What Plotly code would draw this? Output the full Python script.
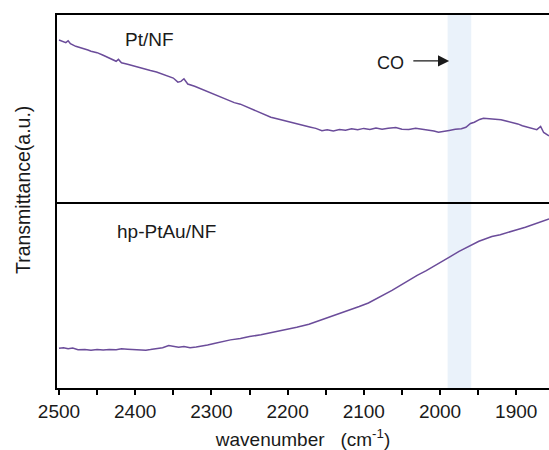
import plotly.graph_objects as go

# ---- data (wavenumber in cm-1, transmittance in a.u.) ----
pt_wn = [2500, 2495, 2491, 2488, 2485, 2478, 2470, 2462, 2458, 2450, 2442, 2436, 2430, 2425, 2422, 2418,
         2410, 2402, 2395, 2388, 2380, 2372, 2365, 2358, 2350, 2344, 2340, 2336, 2331, 2322, 2314, 2306,
         2296, 2288, 2280, 2270, 2262, 2254, 2246, 2238, 2232, 2222, 2214, 2205, 2196, 2188, 2180, 2171,
         2163, 2155, 2148, 2140, 2132, 2124, 2116, 2108, 2100, 2092, 2084, 2076, 2068, 2058, 2050, 2041,
         2032, 2024, 2016, 2008, 2002, 1995, 1988, 1980, 1972, 1966, 1960, 1955, 1948, 1943, 1936, 1928,
         1920, 1912, 1905, 1898, 1892, 1885, 1878, 1873, 1868, 1864, 1857]
pt_val = [0.866, 0.860, 0.852, 0.862, 0.846, 0.832, 0.824, 0.812, 0.806, 0.798, 0.784, 0.772, 0.762, 0.752,
          0.762, 0.744, 0.736, 0.726, 0.720, 0.712, 0.702, 0.694, 0.684, 0.674, 0.662, 0.640, 0.644, 0.658,
          0.630, 0.618, 0.604, 0.592, 0.574, 0.562, 0.546, 0.530, 0.522, 0.508, 0.492, 0.476, 0.466, 0.452,
          0.444, 0.434, 0.426, 0.418, 0.410, 0.400, 0.392, 0.380, 0.385, 0.378, 0.386, 0.382, 0.390, 0.385,
          0.392, 0.386, 0.394, 0.387, 0.393, 0.397, 0.388, 0.386, 0.393, 0.389, 0.383, 0.378, 0.371, 0.378,
          0.381, 0.387, 0.390, 0.398, 0.418, 0.425, 0.440, 0.446, 0.443, 0.440, 0.438, 0.430, 0.424, 0.416,
          0.406, 0.398, 0.390, 0.385, 0.402, 0.370, 0.352]

ptau_wn = [2500, 2494, 2488, 2482, 2475, 2466, 2458, 2450, 2442, 2434, 2425, 2418, 2410, 2402, 2394, 2386,
           2380, 2372, 2364, 2356, 2350, 2343, 2336, 2328, 2320, 2312, 2305, 2295, 2285, 2275, 2262, 2250,
           2235, 2220, 2205, 2188, 2172, 2158, 2145, 2132, 2118, 2106, 2094, 2084, 2072, 2063, 2052, 2040,
           2030, 2018, 2008, 1997, 1986, 1975, 1962, 1949, 1940, 1932, 1921, 1910, 1898, 1888, 1875, 1866,
           1857]
ptau_val = [0.213, 0.216, 0.210, 0.214, 0.205, 0.207, 0.203, 0.206, 0.204, 0.207, 0.205, 0.210, 0.208,
            0.205, 0.206, 0.203, 0.206, 0.210, 0.216, 0.228, 0.224, 0.218, 0.222, 0.216, 0.220, 0.224,
            0.231, 0.240, 0.249, 0.258, 0.265, 0.276, 0.285, 0.297, 0.309, 0.326, 0.342, 0.362, 0.378,
            0.398, 0.417, 0.437, 0.456, 0.477, 0.500, 0.523, 0.550, 0.581, 0.604, 0.629, 0.652, 0.679,
            0.706, 0.733, 0.762, 0.787, 0.800, 0.812, 0.822, 0.837, 0.850, 0.862, 0.880, 0.895, 0.907]

x_ticks = [2500, 2400, 2300, 2200, 2100, 2000, 1900]
x_minor = [2450, 2350, 2250, 2150, 2050, 1950]
co_band = [1990, 1959]

LINE = "#6b4c9a"
FONT = "Liberation Sans, Arial, sans-serif"
TXT = "#1a1a1a"

fig = go.Figure()
fig.add_trace(go.Scatter(x=pt_wn, y=pt_val, mode="lines", xaxis="x2", yaxis="y2",
                         line=dict(color=LINE, width=1.5), showlegend=False))
fig.add_trace(go.Scatter(x=ptau_wn, y=ptau_val, mode="lines", xaxis="x", yaxis="y",
                         line=dict(color=LINE, width=1.5), showlegend=False))

xr = [2502.6, 1857]
axis_common = dict(range=xr, showgrid=False, zeroline=False, showline=True,
                   linecolor="black", linewidth=2)
fig.update_layout(
    width=549, height=450,
    margin=dict(l=57, r=0, t=15, b=62),
    paper_bgcolor="white", plot_bgcolor="white",
    font=dict(family=FONT, color=TXT, size=19),
    xaxis=dict(**axis_common, anchor="y", domain=[0, 1],
               tickmode="array", tickvals=x_ticks, ticktext=[str(v) for v in x_ticks],
               ticks="outside", ticklen=5, tickwidth=1.5, tickcolor="black",
               minor=dict(tickmode="array", tickvals=x_minor,
                          ticks="outside", ticklen=5, tickwidth=1.5, tickcolor="black"),
               tickfont=dict(size=19), mirror=False,
               title=dict(text="wavenumber   (cm<sup>-1</sup>)", font=dict(size=19), standoff=12)),
    yaxis=dict(domain=[0, 0.5], range=[0, 1], anchor="x", showgrid=False, zeroline=False,
               showline=True, linecolor="black", linewidth=2, showticklabels=False, ticks=""),
    xaxis2=dict(**axis_common, anchor="y2", matches="x", showticklabels=False, ticks="", mirror=True),
    yaxis2=dict(domain=[0.5, 1], range=[0, 1], anchor="x2", showgrid=False, zeroline=False,
                showline=True, linecolor="black", linewidth=2, showticklabels=False, ticks=""),
)

fig.add_shape(type="rect", xref="x", yref="paper", x0=co_band[0], x1=co_band[1], y0=0, y1=1,
              fillcolor="rgba(220,233,246,0.6)", line=dict(width=0), layer="below")

fig.add_annotation(x=2381, y=0.866, xref="x2", yref="y2", text="Pt/NF", showarrow=False,
                   font=dict(size=19))
fig.add_annotation(x=2359, y=0.840, xref="x", yref="y", text="hp-PtAu/NF", showarrow=False,
                   font=dict(size=19))
fig.add_annotation(x=2065, y=0.745, xref="x2", yref="y2", text="CO", showarrow=False,
                   font=dict(size=18))
fig.add_annotation(x=1988, y=0.754, ax=2037, ay=0.754, xref="x2", yref="y2", axref="x2", ayref="y2",
                   text="", showarrow=True, arrowhead=2, arrowsize=1.6, arrowwidth=1.4,
                   arrowcolor=TXT)
fig.add_annotation(x=0, y=190, xref="paper", yref="paper", text="Transmittance(a.u.)",
                   textangle=-90, showarrow=False, font=dict(size=19.5),
                   xanchor="center", yanchor="middle")
# position y-title in pixel terms: centre at x=23px, y=190px from top
fig.layout.annotations[-1].update(x=0, xshift=23 - 57, y=1 - (190 - 15) / 373)

fig.write_html("out.html")
